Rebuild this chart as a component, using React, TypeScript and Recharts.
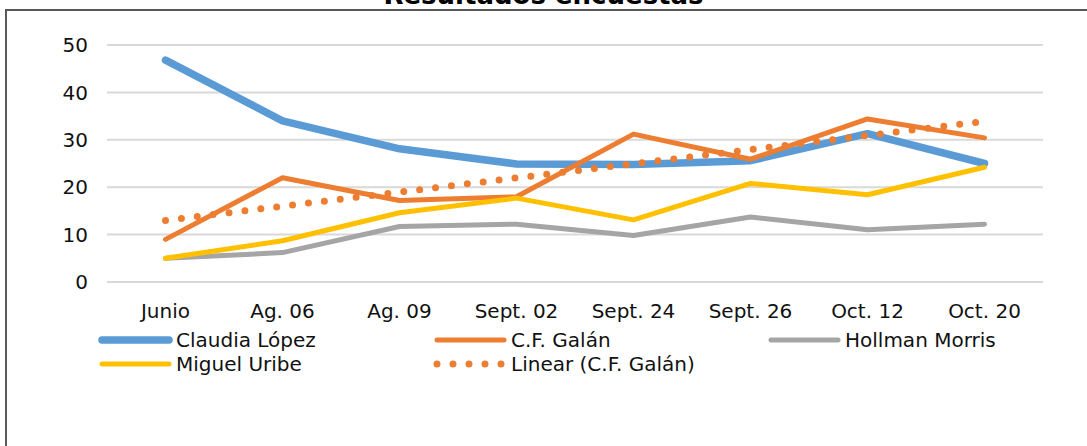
import { LineChart, Line, XAxis, YAxis, CartesianGrid, Legend } from 'recharts';

const categories = ['Junio', 'Ag. 06', 'Ag. 09', 'Sept. 02', 'Sept. 24', 'Sept. 26', 'Oct. 12', 'Oct. 20'];
const claudiaLopez = [46.8, 34.0, 28.1, 24.9, 24.8, 25.6, 31.3, 25.0];
const cfGalan = [9.0, 22.0, 17.2, 18.0, 31.2, 25.9, 34.4, 30.4];
const hollmanMorris = [5.0, 6.2, 11.7, 12.2, 9.8, 13.7, 11.0, 12.2];
const miguelUribe = [5.0, 8.7, 14.6, 17.7, 13.1, 20.8, 18.4, 24.2];
const galanTrend = [13.0, null, null, null, null, null, null, 33.9];
const yTicks = [0, 10, 20, 30, 40, 50];

const data = categories.map((name, i) => ({
  name,
  claudia: claudiaLopez[i],
  galan: cfGalan[i],
  hollman: hollmanMorris[i],
  miguel: miguelUribe[i],
  trend: galanTrend[i],
}));

const series = [
  { key: 'claudia', name: 'Claudia López', color: '#5B9BD5', width: 7.5, dash: undefined },
  { key: 'galan', name: 'C.F. Galán', color: '#ED7D31', width: 5, dash: undefined },
  { key: 'hollman', name: 'Hollman Morris', color: '#A5A5A5', width: 5, dash: undefined },
  { key: 'miguel', name: 'Miguel Uribe', color: '#FFC000', width: 5, dash: undefined },
  { key: 'trend', name: 'Linear (C.F. Galán)', color: '#ED7D31', width: 7, dash: '0 16' },
];

const font = '"DejaVu Sans", Verdana, sans-serif';

function ChartLegend() {
  return (
    <div
      style={{
        display: 'grid',
        gridTemplateColumns: '335px 334px 320px',
        paddingLeft: 98,
        fontFamily: font,
        fontSize: 20,
        color: '#111',
      }}
    >
      {series.map((s) => (
        <div key={s.key} style={{ display: 'flex', alignItems: 'center', height: 24 }}>
          <svg width={78} height={14}>
            <line
              x1={4}
              y1={7}
              x2={s.dash ? 70 : 71}
              y2={7}
              stroke={s.color}
              strokeWidth={s.width}
              strokeLinecap="round"
              strokeDasharray={s.dash}
            />
          </svg>
          <span style={{ whiteSpace: 'nowrap' }}>{s.name}</span>
        </div>
      ))}
    </div>
  );
}

export default function App() {
  return (
    <div
      style={{
        position: 'absolute',
        left: 0,
        top: 0,
        width: 1087,
        height: 446,
        overflow: 'hidden',
        background: '#fff',
      }}
    >
      <div
        style={{
          position: 'absolute',
          left: 5,
          top: 9,
          right: -10,
          bottom: -10,
          borderTop: '2px solid #595959',
          borderLeft: '2px solid #595959',
        }}
      />
      <div
        style={{
          position: 'absolute',
          left: 0,
          width: 1087,
          top: -17,
          textAlign: 'center',
          fontFamily: font,
          fontWeight: 'bold',
          fontSize: 26,
          lineHeight: '25px',
          color: '#000',
        }}
      >
        Resultados encuestas
      </div>
      <LineChart
        width={1087}
        height={446}
        data={data}
        margin={{ top: 45, right: 44, bottom: 124, left: 0 }}
        style={{ fontFamily: font }}
      >
        <CartesianGrid vertical={false} stroke="#D9D9D9" strokeWidth={2} />
        <XAxis
          dataKey="name"
          axisLine={false}
          tickLine={false}
          height={40}
          tickSize={6}
          tickMargin={16}
          padding={{ left: 58.5, right: 58.5 }}
          tick={{ fill: '#111', fontSize: 20 }}
          interval={0}
        />
        <YAxis
          width={107}
          domain={[0, 50]}
          ticks={yTicks}
          axisLine={false}
          tickLine={false}
          tickSize={6}
          tickMargin={13}
          tick={{ fill: '#111', fontSize: 20 }}
        />
        <Legend
          layout="horizontal"
          verticalAlign="middle"
          align="center"
          wrapperStyle={{ top: 328, left: 0, width: 1087 }}
          content={() => <ChartLegend />}
        />
        {series.map((s) => (
          <Line
            key={s.key}
            type="linear"
            dataKey={s.key}
            name={s.name}
            stroke={s.color}
            strokeWidth={s.width}
            strokeDasharray={s.dash}
            strokeLinecap="round"
            strokeLinejoin="round"
            dot={false}
            activeDot={false}
            connectNulls
            isAnimationActive={false}
          />
        ))}
      </LineChart>
    </div>
  );
}
